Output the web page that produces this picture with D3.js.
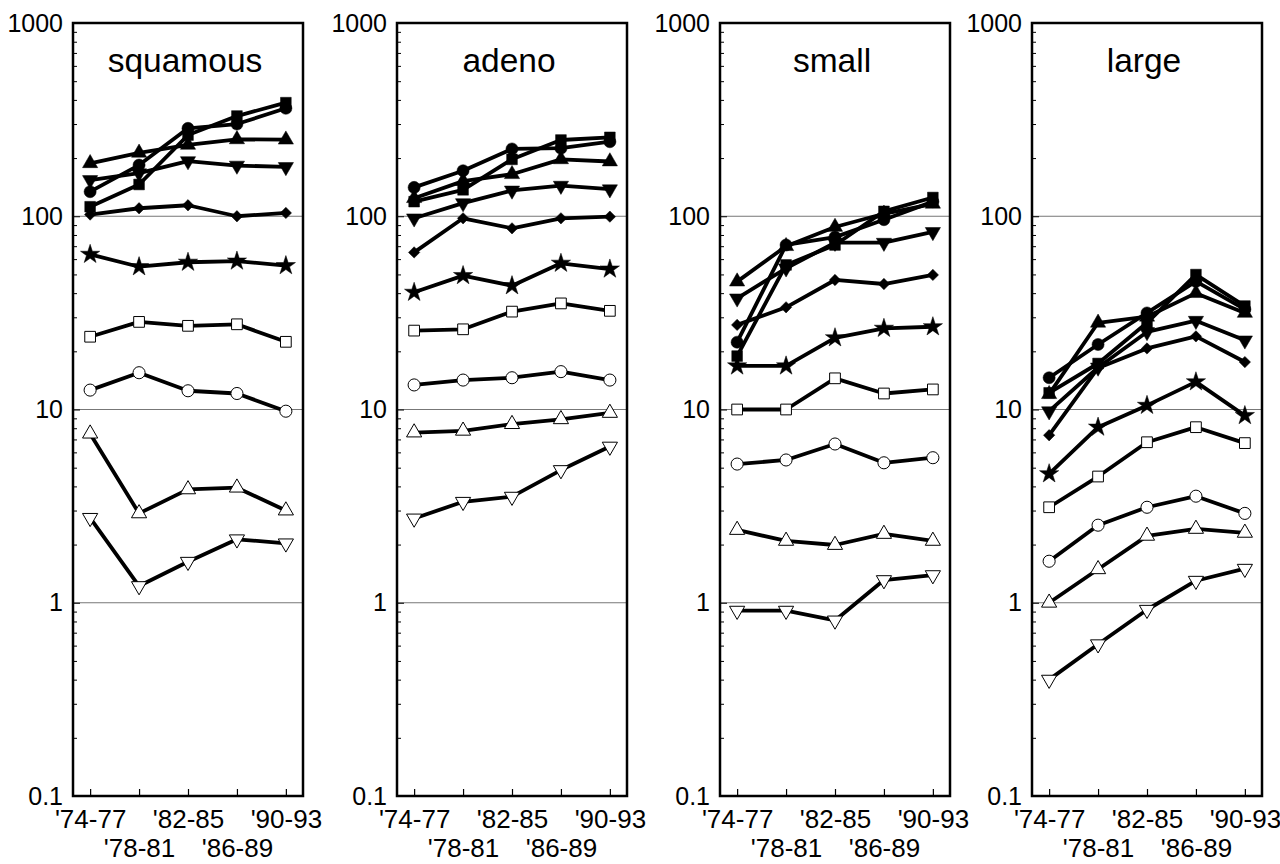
<!DOCTYPE html>
<html>
<head>
<meta charset="utf-8">
<script src="https://cdn.jsdelivr.net/npm/d3@7"></script>
<style>
  body { margin: 0; background: #fff; }
  text { font-family: "Liberation Sans", Arial, sans-serif; fill: #000; }
  .grid { stroke: #777; stroke-width: 1; }
  .line { fill: none; stroke: #000; stroke-width: 3.8; stroke-linejoin: round; }
</style>
</head>
<body>
<div id="chart"></div>
<script>

var periods = ["'74-77", "'78-81", "'82-85", "'86-89", "'90-93"];
var histologies = ["squamous", "adeno", "small", "large"];
var markers = ["circle", "square", "triangleUp", "triangleDown", "diamond", "star",
               "openSquare", "openCircle", "openTriangleUp", "openTriangleDown"];
var yTicks = [0.1, 1, 10, 100, 1000];

// one row per marker, same order as markers
var squamous = [
  [134, 184, 285, 300, 362],
  [112, 146, 263, 330, 387],
  [188, 213, 234, 250, 249],
  [154, 167, 193, 183, 180],
  [102, 110, 114, 100, 104],
  [63.5, 54.8, 57.8, 58.6, 55.5],
  [23.8, 28.4, 27.1, 27.6, 22.4],
  [12.6, 15.5, 12.5, 12.1, 9.8],
  [7.5, 2.9, 3.86, 3.94, 3.0],
  [2.75, 1.22, 1.63, 2.13, 2.03]
];
var adeno = [
  [141, 172, 223, 225, 243],
  [119, 137, 197, 248, 256],
  [124, 152, 165, 197, 192],
  [97.6, 117, 136, 144, 138],
  [65, 97.6, 86.6, 97.6, 99.5],
  [40.4, 49.3, 43.7, 57.1, 53.3],
  [25.6, 26.0, 32.1, 35.4, 32.4],
  [13.4, 14.2, 14.6, 15.7, 14.2],
  [7.6, 7.76, 8.4, 8.9, 9.6],
  [2.73, 3.33, 3.54, 4.86, 6.43]
];
var small = [
  [22.3, 71, 78, 96, 119],
  [18.9, 56, 71, 106, 125],
  [45.9, 70, 88, 103, 116],
  [37.6, 53.8, 73, 73, 83],
  [27.4, 33.8, 46.8, 44.6, 49.7],
  [16.8, 16.8, 23.5, 26.3, 26.8],
  [10.0, 10.0, 14.5, 12.1, 12.7],
  [5.22, 5.48, 6.63, 5.3, 5.63],
  [2.38, 2.09, 1.99, 2.27, 2.09],
  [0.91, 0.91, 0.81, 1.31, 1.39]
];
var large = [
  [14.6, 21.7, 31.6, 46, 33],
  [12.2, 17.3, 28.1, 49.9, 34.3],
  [12, 28.1, 30.2, 40, 31.6],
  [9.8, 16.5, 25.2, 28.8, 22.8],
  [7.36, 16.4, 20.7, 23.9, 17.6],
  [4.65, 8.1, 10.5, 13.9, 9.3],
  [3.12, 4.5, 6.77, 8.1, 6.7],
  [1.64, 2.52, 3.12, 3.56, 2.9],
  [1.0, 1.49, 2.22, 2.41, 2.3],
  [0.40, 0.61, 0.92, 1.30, 1.50]
];
var panelData = [squamous, adeno, small, large];

var panelLeft = [73, 397, 720, 1032];
var panelWidth = 230;
var plotTop = 23, plotBottom = 796;

var svg = d3.select("#chart")
  .append("svg")
  .attr("width", 1280)
  .attr("height", 864);

var yScale = d3.scaleLog()
  .domain([0.1, 1000])
  .range([plotBottom, plotTop]);

// minor ticks 2..9 in each decade
var minorTicks = [];
[0.1, 1, 10, 100].forEach(function (d) {
  d3.range(2, 10).forEach(function (k) { minorTicks.push(d * k); });
});

function markerPath(name) {
  var type, size, rot = 0;
  if (name == "circle" || name == "openCircle") { type = d3.symbolCircle; size = 115; }
  else if (name == "square" || name == "openSquare") { type = d3.symbolSquare; size = 115; }
  else if (name == "triangleUp" || name == "openTriangleUp") { type = d3.symbolTriangle; size = 100; }
  else if (name == "triangleDown" || name == "openTriangleDown") { type = d3.symbolTriangle; size = 100; rot = 180; }
  else if (name == "diamond") { type = d3.symbolSquare; size = 64; rot = 45; }
  else { type = d3.symbolStar; size = 115; }
  return { d: d3.symbol().type(type).size(size)(), rot: rot, open: name.indexOf("open") == 0 };
}

histologies.forEach(function (name, p) {

  var left = panelLeft[p];
  var g = svg.append("g");

  var xScale = d3.scalePoint()
    .domain(periods)
    .range([left, left + panelWidth])
    .padding(0.35);

  // grid lines at 1, 10, 100
  g.selectAll(".grid")
    .data([1, 10, 100]).enter()
    .append("line")
    .attr("class", "grid")
    .attr("x1", left).attr("x2", left + panelWidth)
    .attr("y1", function (d) { return yScale(d); })
    .attr("y2", function (d) { return yScale(d); });

  // minor ticks
  g.append("g")
    .attr("transform", "translate(" + left + ",0)")
    .call(d3.axisLeft(yScale).tickValues(minorTicks).tickSize(-4).tickFormat(""))
    .call(function (a) { a.select(".domain").remove(); a.selectAll("line").attr("stroke-width", 1); });

  // major ticks + labels
  g.append("g")
    .attr("transform", "translate(" + left + ",0)")
    .call(d3.axisLeft(yScale).tickValues(yTicks).tickSize(-7).tickPadding(10)
      .tickFormat(function (d) { return d < 1 ? "0.1" : String(d); }))
    .call(function (a) {
      a.select(".domain").remove();
      a.selectAll("text").style("font-size", "25px").style("font-family", null);
    });

  // bottom axis
  g.append("g")
    .attr("transform", "translate(0," + plotBottom + ")")
    .call(d3.axisBottom(xScale).tickSize(-7).tickPadding(0))
    .call(function (a) {
      a.select(".domain").remove();
      a.selectAll("line").attr("stroke-width", 1.2);
      a.selectAll("text")
        .style("font-size", "26px").style("font-family", null)
        .attr("dy", null)
        .attr("y", function (d, i) { return i % 2 == 0 ? 32 : 61; });
    });

  // series
  panelData[p].forEach(function (values, s) {
    var pts = values.map(function (v, i) { return { x: xScale(periods[i]), y: yScale(v) }; });
    var line = d3.line()
      .x(function (d) { return d.x; })
      .y(function (d) { return d.y; });

    g.append("path")
      .attr("class", "line")
      .attr("d", line(pts));

    var m = markerPath(markers[s]);
    g.selectAll(".m" + s)
      .data(pts).enter()
      .append("path")
      .attr("class", "m" + s)
      .attr("d", m.d)
      .attr("transform", function (d) { return "translate(" + d.x + "," + d.y + ") rotate(" + m.rot + ")"; })
      .attr("fill", m.open ? "#fff" : "#000")
      .attr("stroke", "#000")
      .attr("stroke-width", m.open ? 1 : 0.5);
  });

  // frame
  g.append("rect")
    .attr("x", left).attr("y", plotTop)
    .attr("width", panelWidth).attr("height", plotBottom - plotTop)
    .attr("fill", "none")
    .attr("stroke", "#000")
    .attr("stroke-width", 2.5);

  g.append("text")
    .attr("x", left + panelWidth / 2 - 3)
    .attr("y", 72)
    .attr("text-anchor", "middle")
    .style("font-size", "33.5px")
    .text(name);
});

</script>
</body>
</html>
